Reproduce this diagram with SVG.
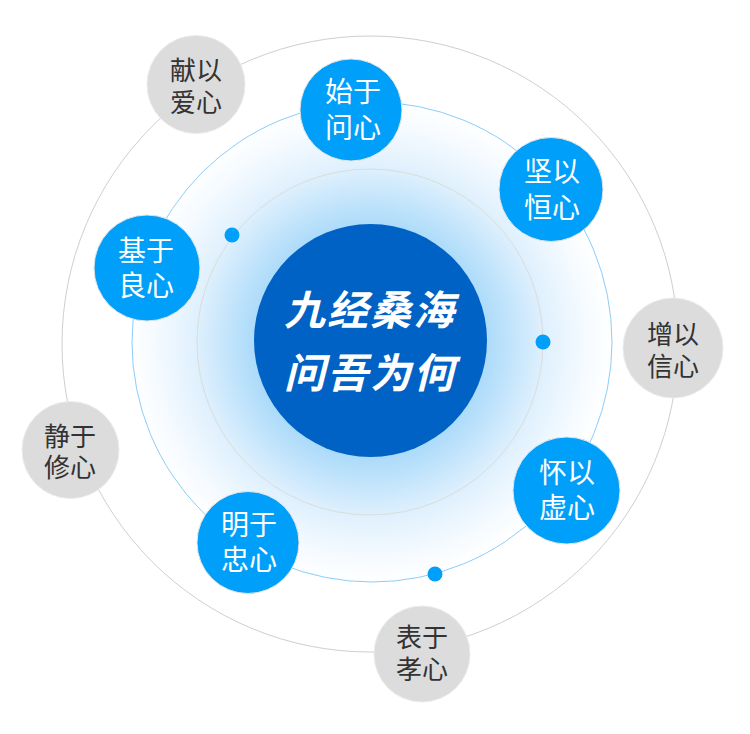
<svg xmlns="http://www.w3.org/2000/svg" width="750" height="734" viewBox="0 0 750 734">
<defs>
<radialGradient id="glow" cx="370" cy="342" r="242" gradientUnits="userSpaceOnUse">
<stop offset="0" stop-color="#8fcdf7"/>
<stop offset="0.48" stop-color="#acdbfa"/>
<stop offset="0.72" stop-color="#dff0fd"/>
<stop offset="0.9" stop-color="#f6fbff"/>
<stop offset="1" stop-color="#ffffff"/>
</radialGradient>
<style>
.ring-outer{fill:none;stroke:#cfcfcf;stroke-width:1}
.ring-mid{stroke:#8ccdf8;stroke-width:1}
.ring-inner{fill:none;stroke:#dcdcdc;stroke-width:1}
.dot{fill:#009ff9}
.blue circle{fill:#009ff9;stroke:#e6e6e6;stroke-width:1}
.grey circle{fill:#dcdcdc;stroke:#ececec;stroke-width:1}
.blue text{fill:#ffffff;font-family:"Noto Sans CJK SC","Noto Sans",sans-serif;font-size:28px;text-anchor:middle}
.grey text{fill:#333333;font-family:"Noto Sans CJK SC","Noto Sans",sans-serif;font-size:26px;text-anchor:middle}
.title{fill:#ffffff;font-family:"Noto Sans CJK SC",sans-serif;font-size:41px;font-weight:bold;font-style:italic;text-anchor:middle;letter-spacing:2px}
</style>
</defs>
<rect width="750" height="734" fill="#ffffff"/>
<g id="connectors">
<circle class="ring-outer" cx="370" cy="344" r="308"/>
<circle class="ring-mid" cx="372" cy="342" r="240" fill="url(#glow)"/>
<circle class="ring-inner" cx="370" cy="342" r="173"/>
<circle class="dot" cx="232" cy="235" r="7.5"/>
<circle class="dot" cx="543" cy="342" r="7.5"/>
<circle class="dot" cx="435" cy="574" r="7.5"/>
</g>
<g id="center">
<circle cx="370.5" cy="340.5" r="116.5" fill="#0062c4"/>
<text class="title" x="370" y="325">九经桑海<tspan x="370" y="388">问吾为何</tspan></text>
</g>
<g id="n-xianyi" class="grey">
<circle cx="196" cy="84.5" r="49"/>
<text x="196" y="80">献以<tspan x="196" y="112">爱心</tspan></text>
</g>
<g id="n-shiyu" class="blue">
<circle cx="351" cy="110" r="51"/>
<text x="353" y="102">始于<tspan x="353" y="138">问心</tspan></text>
</g>
<g id="n-jianyi" class="blue">
<circle cx="551" cy="189.5" r="52"/>
<text x="552" y="182">坚以<tspan x="552" y="218">恒心</tspan></text>
</g>
<g id="n-zengyi" class="grey">
<circle cx="673" cy="348" r="50"/>
<text x="673" y="344">增以<tspan x="673" y="376">信心</tspan></text>
</g>
<g id="n-jiyu" class="blue">
<circle cx="147" cy="268" r="53"/>
<text x="146" y="261">基于<tspan x="146" y="296">良心</tspan></text>
</g>
<g id="n-jingyu" class="grey">
<circle cx="70.5" cy="450" r="48.5"/>
<text x="70" y="446">静于<tspan x="70" y="477">修心</tspan></text>
</g>
<g id="n-mingyu" class="blue">
<circle cx="248" cy="542.5" r="51"/>
<text x="249" y="535">明于<tspan x="249" y="570">忠心</tspan></text>
</g>
<g id="n-huaiyi" class="blue">
<circle cx="566.5" cy="490.5" r="53.5"/>
<text x="567" y="483">怀以<tspan x="567" y="518">虚心</tspan></text>
</g>
<g id="n-biaoyu" class="grey">
<circle cx="422" cy="654" r="48"/>
<text x="422" y="647">表于<tspan x="422" y="679">孝心</tspan></text>
</g>
</svg>
